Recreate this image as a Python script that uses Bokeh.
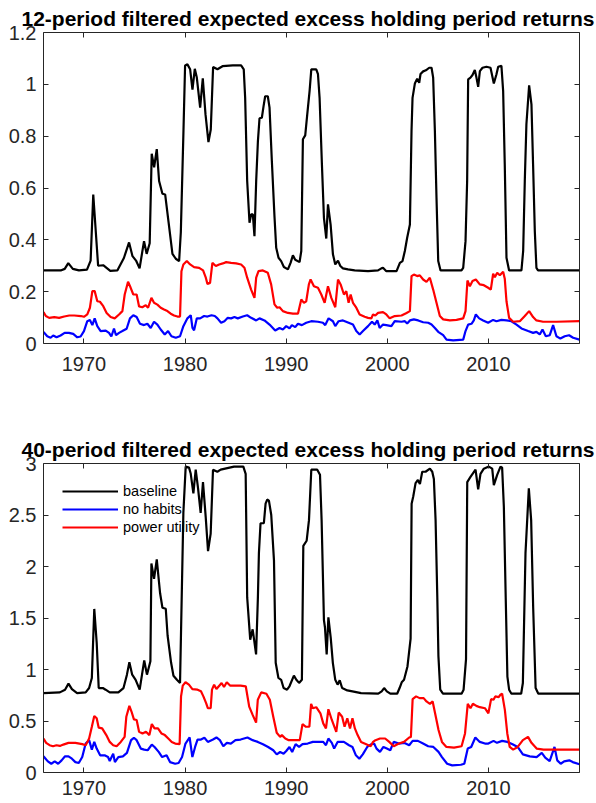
from bokeh.plotting import figure
from bokeh.models import Range1d, LinearAxis, FixedTicker, NumeralTickFormatter, BasicTickFormatter
from bokeh.layouts import column
from bokeh.embed import file_html
from bokeh.resources import INLINE

# ---------------- data ----------------
TITLE_12 = "12-period filtered expected excess holding period returns"
TITLE_40 = "40-period filtered expected excess holding period returns"
SERIES_NAMES = ["baseline", "no habits", "power utility"]
X_TICKS = [1970, 1980, 1990, 2000, 2010]
Y_TICKS_12 = [0, 0.2, 0.4, 0.6, 0.8, 1.0, 1.2]
Y_TICKS_40 = [0, 0.5, 1.0, 1.5, 2.0, 2.5, 3.0]

# 12-period, baseline
yr12_base = [1966.00, 1967.70, 1968.10, 1968.45, 1968.90, 1969.50, 1970.30, 1970.66, 1970.92, 1971.40,
             1971.90, 1972.60, 1973.30, 1973.95, 1974.46, 1974.80, 1975.15, 1975.50, 1975.94, 1976.20,
             1976.50, 1976.70, 1976.94, 1977.20, 1977.43, 1977.76, 1978.03, 1978.36, 1978.75, 1979.08,
             1979.41, 1979.58, 1979.84, 1980.00, 1980.23, 1980.50, 1980.73, 1980.96, 1981.16, 1981.49,
             1981.75, 1982.02, 1982.31, 1982.54, 1982.77, 1983.20, 1983.70, 1984.72, 1985.54, 1985.80,
             1985.94, 1986.14, 1986.37, 1986.53, 1986.70, 1986.86, 1987.03, 1987.20, 1987.36, 1987.59,
             1987.76, 1987.92, 1988.18, 1988.35, 1988.58, 1988.84, 1989.01, 1989.24, 1989.50, 1989.77,
             1990.17, 1990.43, 1990.66, 1990.89, 1991.32, 1991.49, 1991.65, 1991.88, 1992.08, 1992.31,
             1992.48, 1992.97, 1993.14, 1993.30, 1993.53, 1993.73, 1993.96, 1994.13, 1994.39, 1994.62,
             1994.85, 1995.12, 1995.35, 1995.61, 1996.11, 1996.77, 1998.09, 1999.08, 1999.41, 1999.57,
             1999.90, 2000.56, 2000.91, 2001.24, 2001.50, 2001.73, 2001.96, 2002.23, 2002.39, 2002.49,
             2002.72, 2002.95, 2003.15, 2003.28, 2003.54, 2003.81, 2004.14, 2004.37, 2004.53, 2004.70,
             2004.86, 2005.03, 2005.26, 2007.33, 2007.50, 2007.73, 2007.89, 2007.99, 2008.22, 2008.42,
             2008.65, 2008.81, 2008.98, 2009.15, 2009.41, 2009.80, 2010.20, 2010.53, 2010.79, 2010.96,
             2011.28, 2011.45, 2011.61, 2011.78, 2012.04, 2013.26, 2013.43, 2013.59, 2013.75, 2014.02,
             2014.25, 2014.41, 2014.58, 2014.74, 2014.90, 2019.00]
v12_base = [0.282, 0.282, 0.288, 0.310, 0.288, 0.282, 0.285, 0.320, 0.575, 0.300,
            0.302, 0.280, 0.282, 0.330, 0.390, 0.337, 0.320, 0.290, 0.395, 0.346,
            0.387, 0.732, 0.680, 0.750, 0.627, 0.578, 0.575, 0.470, 0.346, 0.327,
            0.318, 0.430, 0.820, 1.073, 1.077, 1.058, 0.980, 1.060, 1.026, 0.910,
            1.023, 0.884, 0.777, 0.826, 1.067, 1.058, 1.070, 1.073, 1.073, 1.058,
            0.948, 0.627, 0.466, 0.498, 0.498, 0.414, 0.627, 0.780, 0.869, 0.871,
            0.916, 0.954, 0.954, 0.910, 0.704, 0.490, 0.369, 0.331, 0.318, 0.295,
            0.286, 0.311, 0.340, 0.323, 0.314, 0.357, 0.788, 0.803, 0.884, 0.974,
            1.058, 1.058, 1.039, 0.948, 0.691, 0.485, 0.405, 0.537, 0.459, 0.344,
            0.305, 0.320, 0.299, 0.290, 0.286, 0.282, 0.279, 0.282, 0.290, 0.292,
            0.279, 0.279, 0.279, 0.311, 0.318, 0.357, 0.408, 0.459, 0.820, 0.948,
            1.003, 1.022, 1.006, 1.040, 1.050, 1.054, 1.064, 1.064, 1.026, 0.820,
            0.562, 0.318, 0.282, 0.282, 0.292, 0.395, 0.627, 1.019, 1.026, 1.036,
            1.055, 1.026, 0.990, 1.051, 1.064, 1.068, 1.064, 1.003, 1.039, 1.068,
            1.071, 0.974, 0.691, 0.331, 0.282, 0.282, 0.357, 0.627, 0.846, 0.996,
            0.923, 0.691, 0.434, 0.292, 0.282, 0.282]

# 12-period, no habits
yr12_nh = [1966.00, 1966.37, 1966.70, 1966.96, 1967.29, 1967.69, 1968.09, 1968.51, 1968.94, 1969.34,
           1969.67, 1970.00, 1970.33, 1970.59, 1970.83, 1971.06, 1971.32, 1971.65, 1972.15, 1972.48,
           1972.71, 1972.97, 1973.17, 1973.47, 1973.80, 1974.22, 1974.55, 1974.88, 1975.21, 1975.54,
           1975.94, 1976.27, 1976.60, 1976.93, 1977.26, 1977.59, 1977.99, 1978.32, 1978.65, 1979.08,
           1979.50, 1979.83, 1980.23, 1980.56, 1980.73, 1980.89, 1981.16, 1981.49, 1981.88, 1982.21,
           1982.61, 1982.94, 1983.20, 1983.56, 1983.89, 1984.22, 1984.55, 1984.88, 1985.21, 1985.71,
           1986.14, 1986.53, 1987.03, 1987.36, 1987.85, 1988.35, 1988.91, 1989.34, 1989.67, 1990.00,
           1990.33, 1990.56, 1990.89, 1991.16, 1991.55, 1991.98, 1992.48, 1993.14, 1993.63, 1993.86,
           1994.19, 1994.62, 1994.85, 1995.18, 1995.61, 1996.17, 1996.60, 1996.93, 1997.26, 1997.59,
           1998.09, 1998.48, 1998.75, 1999.01, 1999.24, 1999.57, 1999.90, 2000.40, 2000.73, 2001.40,
           2001.73, 2001.96, 2002.23, 2002.62, 2003.05, 2003.54, 2004.04, 2004.37, 2004.70, 2005.03,
           2005.52, 2005.85, 2006.51, 2007.50, 2007.73, 2007.99, 2008.32, 2008.55, 2008.75, 2009.08,
           2009.47, 2009.97, 2010.46, 2010.79, 2011.28, 2011.78, 2012.27, 2012.77, 2013.26, 2013.92,
           2014.41, 2014.74, 2015.07, 2015.34, 2015.67, 2016.06, 2016.39, 2016.72, 2017.11, 2017.54,
           2017.97, 2018.37, 2019.00]
v12_nh = [0.045, 0.028, 0.022, 0.031, 0.024, 0.031, 0.041, 0.041, 0.037, 0.024,
          0.027, 0.048, 0.086, 0.091, 0.071, 0.097, 0.067, 0.048, 0.050, 0.041,
          0.027, 0.058, 0.032, 0.041, 0.048, 0.057, 0.097, 0.109, 0.102, 0.076,
          0.071, 0.076, 0.060, 0.084, 0.073, 0.054, 0.035, 0.048, 0.028, 0.022,
          0.028, 0.067, 0.097, 0.109, 0.060, 0.051, 0.097, 0.097, 0.106, 0.104,
          0.109, 0.106, 0.097, 0.080, 0.086, 0.099, 0.097, 0.102, 0.097, 0.104,
          0.109, 0.099, 0.089, 0.097, 0.089, 0.073, 0.050, 0.060, 0.054, 0.067,
          0.058, 0.071, 0.063, 0.076, 0.071, 0.080, 0.086, 0.084, 0.080, 0.071,
          0.097, 0.086, 0.067, 0.086, 0.089, 0.080, 0.073, 0.048, 0.035, 0.048,
          0.067, 0.084, 0.073, 0.089, 0.060, 0.073, 0.071, 0.067, 0.086, 0.084,
          0.086, 0.077, 0.089, 0.093, 0.089, 0.082, 0.080, 0.073, 0.060, 0.045,
          0.032, 0.015, 0.012, 0.015, 0.048, 0.073, 0.076, 0.089, 0.112, 0.097,
          0.089, 0.080, 0.091, 0.086, 0.091, 0.089, 0.086, 0.073, 0.058, 0.048,
          0.041, 0.045, 0.035, 0.054, 0.028, 0.032, 0.071, 0.028, 0.019, 0.028,
          0.032, 0.022, 0.015]

# 12-period, power utility
yr12_pu = [1966.00, 1966.23, 1966.56, 1967.06, 1967.55, 1968.05, 1968.55, 1969.04, 1969.70, 1970.00,
           1970.33, 1970.59, 1970.83, 1971.06, 1971.32, 1971.58, 1971.91, 1972.24, 1972.64, 1973.04,
           1973.47, 1973.80, 1974.03, 1974.36, 1974.62, 1974.88, 1975.21, 1975.45, 1975.77, 1976.11,
           1976.34, 1976.67, 1976.93, 1977.26, 1977.59, 1977.92, 1978.25, 1978.58, 1978.91, 1979.24,
           1979.50, 1979.64, 1979.83, 1980.17, 1980.50, 1980.89, 1981.39, 1981.78, 1982.05, 1982.21,
           1982.47, 1982.70, 1983.04, 1983.37, 1983.73, 1984.06, 1984.55, 1985.05, 1985.54, 1985.87,
           1986.14, 1986.53, 1986.86, 1987.03, 1987.26, 1987.69, 1988.18, 1988.51, 1988.84, 1989.11,
           1989.34, 1989.67, 1990.17, 1990.66, 1991.16, 1991.49, 1991.75, 1991.98, 1992.24, 1992.41,
           1992.74, 1993.14, 1993.47, 1993.80, 1994.13, 1994.46, 1994.85, 1995.12, 1995.38, 1995.71,
           1995.94, 1996.17, 1996.37, 1996.60, 1996.93, 1997.26, 1997.76, 1998.09, 1998.42, 1998.58,
           1998.81, 1999.08, 1999.57, 1999.90, 2000.23, 2000.73, 2001.40, 2001.90, 2002.23, 2002.39,
           2002.62, 2002.95, 2003.21, 2003.54, 2003.87, 2004.20, 2004.53, 2004.86, 2005.19, 2005.52,
           2006.18, 2006.84, 2007.50, 2007.73, 2007.92, 2008.16, 2008.42, 2008.75, 2009.14, 2009.54,
           2009.97, 2010.23, 2010.46, 2010.63, 2010.86, 2011.12, 2011.45, 2011.61, 2011.78, 2012.04,
           2012.44, 2013.10, 2013.59, 2014.02, 2014.41, 2014.74, 2015.40, 2016.72, 2019.00]
v12_pu = [0.121, 0.106, 0.099, 0.102, 0.099, 0.104, 0.108, 0.108, 0.106, 0.103,
          0.112, 0.138, 0.202, 0.202, 0.163, 0.161, 0.144, 0.118, 0.102, 0.097,
          0.112, 0.125, 0.189, 0.238, 0.215, 0.189, 0.189, 0.143, 0.140, 0.148,
          0.138, 0.176, 0.157, 0.150, 0.138, 0.131, 0.125, 0.115, 0.108, 0.104,
          0.104, 0.279, 0.305, 0.318, 0.305, 0.295, 0.292, 0.282, 0.254, 0.230,
          0.234, 0.311, 0.299, 0.305, 0.309, 0.314, 0.311, 0.309, 0.305, 0.292,
          0.254, 0.208, 0.176, 0.254, 0.279, 0.282, 0.273, 0.228, 0.151, 0.138,
          0.140, 0.125, 0.118, 0.115, 0.115, 0.170, 0.157, 0.163, 0.228, 0.247,
          0.221, 0.215, 0.189, 0.157, 0.221, 0.176, 0.140, 0.247, 0.228, 0.189,
          0.202, 0.157, 0.189, 0.157, 0.138, 0.112, 0.103, 0.099, 0.097, 0.112,
          0.108, 0.118, 0.121, 0.112, 0.097, 0.106, 0.108, 0.118, 0.125, 0.260,
          0.266, 0.260, 0.263, 0.247, 0.238, 0.254, 0.208, 0.157, 0.106, 0.093,
          0.089, 0.091, 0.097, 0.125, 0.243, 0.221, 0.241, 0.247, 0.228, 0.225,
          0.215, 0.208, 0.269, 0.256, 0.273, 0.263, 0.277, 0.250, 0.163, 0.099,
          0.084, 0.086, 0.106, 0.125, 0.102, 0.089, 0.084, 0.084, 0.086]

# 40-period, baseline
yr40_base = [1966.00, 1967.62, 1968.13, 1968.47, 1968.81, 1969.32, 1970.17, 1970.51, 1970.78, 1971.02,
             1971.26, 1971.46, 1971.87, 1972.14, 1972.55, 1973.40, 1973.91, 1974.25, 1974.49, 1974.77,
             1975.11, 1975.51, 1975.96, 1976.23, 1976.57, 1976.67, 1976.93, 1977.20, 1977.53, 1977.76,
             1978.09, 1978.27, 1978.61, 1978.85, 1979.19, 1979.50, 1979.83, 1980.06, 1980.39, 1980.56,
             1980.82, 1981.05, 1981.28, 1981.54, 1981.77, 1982.04, 1982.27, 1982.53, 1982.76, 1983.19,
             1983.52, 1984.84, 1985.76, 1985.99, 1986.14, 1986.44, 1986.68, 1986.85, 1987.02, 1987.20,
             1987.30, 1987.46, 1987.79, 1987.96, 1988.12, 1988.29, 1988.52, 1988.79, 1988.96, 1989.23,
             1989.50, 1989.74, 1990.08, 1990.32, 1990.76, 1991.00, 1991.27, 1991.55, 1991.69, 1992.02,
             1992.25, 1992.48, 1993.07, 1993.34, 1993.50, 1993.73, 1993.83, 1994.00, 1994.17, 1994.40,
             1994.61, 1994.85, 1995.08, 1995.29, 1995.53, 1996.04, 1996.55, 1997.40, 1999.10, 1999.44,
             1999.68, 1999.95, 2000.29, 2000.97, 2001.21, 2001.42, 2001.65, 2001.99, 2002.30, 2002.40,
             2002.56, 2002.79, 2003.02, 2003.22, 2003.45, 2003.78, 2004.21, 2004.44, 2004.60, 2004.77,
             2004.94, 2005.05, 2005.23, 2005.50, 2007.34, 2007.54, 2007.78, 2007.90, 2008.22, 2008.72,
             2008.98, 2009.21, 2009.54, 2010.03, 2010.37, 2010.53, 2010.86, 2011.19, 2011.35, 2011.52,
             2011.68, 2011.87, 2012.04, 2012.27, 2013.23, 2013.40, 2013.66, 2013.99, 2014.22, 2014.42,
             2014.66, 2014.93, 2019.00]
v40_base = [0.771, 0.778, 0.804, 0.863, 0.810, 0.771, 0.778, 0.820, 0.918, 1.588,
            1.260, 0.820, 0.820, 0.804, 0.778, 0.778, 0.820, 0.950, 1.070, 0.950,
            0.900, 0.804, 1.088, 0.950, 1.080, 2.030, 1.880, 2.070, 1.740, 1.600,
            1.590, 1.330, 1.070, 0.940, 0.900, 0.870, 2.520, 2.970, 2.960, 2.900,
            2.710, 2.940, 2.760, 2.520, 2.820, 2.480, 2.150, 2.320, 2.940, 2.920,
            2.940, 2.970, 2.970, 2.900, 1.700, 1.290, 1.390, 1.270, 1.147, 1.700,
            2.130, 2.420, 2.420, 2.610, 2.650, 2.640, 2.500, 2.060, 1.065, 0.918,
            0.900, 0.820, 0.804, 0.837, 0.940, 0.900, 0.870, 0.900, 2.200, 2.250,
            2.450, 2.940, 2.940, 2.890, 2.450, 1.480, 1.410, 1.147, 1.507, 1.310,
            1.065, 0.900, 0.853, 0.895, 0.820, 0.797, 0.788, 0.771, 0.765, 0.788,
            0.820, 0.788, 0.765, 0.765, 0.820, 0.876, 0.900, 1.030, 1.300, 2.610,
            2.680, 2.810, 2.840, 2.800, 2.920, 2.920, 2.950, 2.920, 2.850, 2.450,
            1.700, 1.130, 0.804, 0.765, 0.765, 0.804, 1.100, 2.820, 2.870, 2.940,
            2.750, 2.900, 2.950, 2.970, 2.950, 2.790, 2.890, 2.970, 2.960, 2.580,
            1.810, 0.930, 0.804, 0.765, 0.765, 0.869, 2.130, 2.760, 2.450, 1.600,
            0.820, 0.765, 0.765]

# 40-period, no habits
yr40_nh = [1966.00, 1966.43, 1966.77, 1967.11, 1967.45, 1967.79, 1968.13, 1968.47, 1968.81, 1969.15,
           1969.49, 1969.83, 1970.17, 1970.51, 1970.78, 1971.02, 1971.26, 1971.60, 1972.04, 1972.38,
           1972.55, 1972.89, 1973.06, 1973.40, 1973.85, 1974.25, 1974.66, 1974.94, 1975.21, 1975.62,
           1975.96, 1976.30, 1976.71, 1976.98, 1977.39, 1977.73, 1978.17, 1978.51, 1979.02, 1979.36,
           1979.70, 1980.04, 1980.45, 1980.72, 1980.99, 1981.23, 1981.57, 1981.91, 1982.25, 1982.76,
           1983.10, 1983.44, 1983.78, 1984.13, 1984.53, 1984.98, 1985.49, 1986.17, 1986.68, 1987.19,
           1987.70, 1988.21, 1988.72, 1989.06, 1989.40, 1989.74, 1989.98, 1990.32, 1990.59, 1990.93,
           1991.27, 1991.61, 1992.12, 1992.63, 1993.14, 1993.66, 1993.93, 1994.17, 1994.51, 1994.74,
           1995.08, 1995.70, 1996.21, 1996.55, 1996.89, 1997.23, 1997.57, 1998.01, 1998.42, 1998.69,
           1998.93, 1999.27, 1999.61, 1999.95, 2000.29, 2000.63, 2001.14, 2001.65, 2002.16, 2002.50,
           2003.02, 2003.53, 2004.04, 2004.55, 2005.06, 2005.40, 2005.91, 2006.42, 2007.27, 2007.61,
           2007.95, 2008.29, 2008.70, 2009.14, 2009.65, 2009.99, 2010.50, 2010.84, 2011.35, 2011.86,
           2012.38, 2012.89, 2013.40, 2014.08, 2014.76, 2015.27, 2015.61, 2016.05, 2016.53, 2016.80,
           2017.14, 2017.48, 2017.99, 2018.33, 2019.00]
v40_nh = [0.157, 0.108, 0.085, 0.108, 0.085, 0.118, 0.157, 0.157, 0.134, 0.101,
          0.092, 0.150, 0.281, 0.314, 0.222, 0.297, 0.232, 0.167, 0.167, 0.150,
          0.111, 0.183, 0.101, 0.150, 0.157, 0.190, 0.314, 0.337, 0.314, 0.232,
          0.222, 0.216, 0.271, 0.248, 0.200, 0.150, 0.167, 0.101, 0.085, 0.092,
          0.150, 0.281, 0.340, 0.150, 0.248, 0.320, 0.320, 0.337, 0.297, 0.320,
          0.340, 0.314, 0.255, 0.288, 0.281, 0.314, 0.320, 0.340, 0.314, 0.297,
          0.275, 0.248, 0.216, 0.176, 0.199, 0.183, 0.206, 0.248, 0.199, 0.275,
          0.248, 0.275, 0.281, 0.297, 0.297, 0.297, 0.265, 0.330, 0.288, 0.232,
          0.297, 0.297, 0.265, 0.248, 0.167, 0.134, 0.176, 0.248, 0.275, 0.281,
          0.232, 0.200, 0.248, 0.232, 0.216, 0.297, 0.281, 0.288, 0.265, 0.307,
          0.307, 0.281, 0.255, 0.248, 0.200, 0.150, 0.085, 0.069, 0.075, 0.085,
          0.232, 0.248, 0.340, 0.297, 0.281, 0.281, 0.307, 0.288, 0.307, 0.297,
          0.275, 0.248, 0.176, 0.157, 0.150, 0.190, 0.144, 0.111, 0.248, 0.118,
          0.085, 0.108, 0.118, 0.101, 0.080]

# 40-period, power utility
yr40_pu = [1966.00, 1966.26, 1966.60, 1966.94, 1967.28, 1967.62, 1967.96, 1968.47, 1969.15, 1969.83,
           1970.17, 1970.51, 1970.78, 1971.02, 1971.26, 1971.46, 1971.80, 1972.21, 1972.55, 1972.89,
           1973.23, 1973.64, 1974.02, 1974.19, 1974.49, 1974.70, 1974.94, 1975.21, 1975.45, 1975.79,
           1976.13, 1976.47, 1976.71, 1976.98, 1977.32, 1977.66, 1978.00, 1978.34, 1978.68, 1979.02,
           1979.46, 1979.60, 1979.77, 1980.04, 1980.38, 1980.72, 1981.23, 1981.57, 1981.81, 1982.08,
           1982.25, 1982.53, 1982.66, 1982.87, 1983.10, 1983.38, 1983.61, 1983.85, 1984.12, 1984.47,
           1984.98, 1985.49, 1986.00, 1986.34, 1986.68, 1987.02, 1987.19, 1987.53, 1988.04, 1988.38,
           1988.72, 1989.06, 1989.40, 1989.57, 1989.91, 1990.25, 1990.93, 1991.34, 1991.61, 1991.95,
           1992.29, 1992.46, 1992.63, 1992.97, 1993.38, 1993.66, 1993.93, 1994.17, 1994.51, 1994.95,
           1995.19, 1995.53, 1995.77, 1996.04, 1996.31, 1996.55, 1996.79, 1997.06, 1997.40, 1997.91,
           1998.35, 1998.59, 1998.83, 1999.27, 1999.78, 2000.19, 2000.63, 2001.14, 2001.65, 2002.16,
           2002.33, 2002.50, 2002.84, 2003.19, 2003.59, 2003.87, 2004.21, 2004.48, 2004.72, 2005.06,
           2005.40, 2005.84, 2006.59, 2007.34, 2007.68, 2007.95, 2008.22, 2008.46, 2008.80, 2009.14,
           2009.65, 2009.99, 2010.26, 2010.50, 2010.67, 2011.01, 2011.18, 2011.35, 2011.62, 2011.86,
           2012.10, 2012.44, 2012.89, 2013.40, 2013.91, 2014.25, 2014.76, 2015.44, 2019.00]
v40_pu = [0.330, 0.288, 0.265, 0.255, 0.265, 0.258, 0.271, 0.288, 0.288, 0.275,
          0.265, 0.330, 0.444, 0.549, 0.526, 0.435, 0.428, 0.363, 0.297, 0.265,
          0.255, 0.297, 0.346, 0.542, 0.647, 0.592, 0.516, 0.510, 0.395, 0.379,
          0.395, 0.363, 0.470, 0.428, 0.428, 0.379, 0.363, 0.330, 0.297, 0.281,
          0.275, 0.739, 0.843, 0.876, 0.853, 0.810, 0.804, 0.788, 0.739, 0.673,
          0.624, 0.624, 0.804, 0.853, 0.810, 0.843, 0.869, 0.830, 0.876, 0.843,
          0.843, 0.843, 0.837, 0.640, 0.559, 0.484, 0.706, 0.778, 0.765, 0.706,
          0.542, 0.386, 0.346, 0.363, 0.330, 0.314, 0.314, 0.314, 0.470, 0.444,
          0.444, 0.667, 0.624, 0.634, 0.575, 0.477, 0.428, 0.614, 0.510, 0.395,
          0.582, 0.542, 0.444, 0.526, 0.428, 0.526, 0.428, 0.363, 0.297, 0.275,
          0.255, 0.297, 0.314, 0.330, 0.330, 0.297, 0.255, 0.281, 0.297, 0.340,
          0.346, 0.712, 0.739, 0.722, 0.722, 0.690, 0.667, 0.690, 0.575, 0.412,
          0.297, 0.248, 0.242, 0.255, 0.379, 0.667, 0.624, 0.667, 0.647, 0.634,
          0.624, 0.575, 0.712, 0.706, 0.739, 0.732, 0.755, 0.765, 0.608, 0.379,
          0.248, 0.222, 0.248, 0.314, 0.346, 0.288, 0.232, 0.222, 0.222]

# ---------------- styling ----------------
FONT = "Liberation Sans"
AXC = "#262626"
COLORS = ["black", "blue", "red"]
LW = 2.2


def style_axis(ax, labels=True):
    ax.axis_line_color = AXC
    ax.axis_line_width = 1
    ax.major_tick_line_color = AXC
    ax.major_tick_in = 5
    ax.major_tick_out = 0
    ax.minor_tick_line_color = None
    ax.major_label_text_font = FONT
    if labels:
        ax.major_label_text_color = AXC
        ax.major_label_text_font_size = "20px"
    else:
        ax.major_label_text_color = None
        ax.major_label_text_font_size = "0px"
        ax.major_label_standoff = 0


def make_fig(title, ymax, yticks, height, top_border, bottom_border, xstandoff):
    p = figure(width=596, height=height, x_range=Range1d(1966, 2019), y_range=Range1d(0, ymax),
               output_backend="svg", toolbar_location=None,
               min_border_left=43, min_border_right=17,
               min_border_top=top_border, min_border_bottom=bottom_border)
    p.title.text = title
    p.title.text_font = FONT
    p.title.text_font_size = "21px"
    p.title.text_font_style = "bold"
    p.title.text_color = "black"
    p.title.align = "left"
    p.title.offset = -22
    p.title.standoff = 5
    p.outline_line_color = None
    p.xgrid.visible = False
    p.ygrid.visible = False
    p.background_fill_color = "white"
    p.border_fill_color = "white"

    p.xaxis.ticker = FixedTicker(ticks=X_TICKS)
    p.xaxis.formatter = BasicTickFormatter(use_scientific=False)
    p.yaxis.ticker = FixedTicker(ticks=yticks)
    p.yaxis.formatter = NumeralTickFormatter(format="0.[0]")
    for ax in p.xaxis:
        style_axis(ax)
        ax.major_label_standoff = xstandoff
    for ax in p.yaxis:
        style_axis(ax)
        ax.major_label_standoff = 7

    top = LinearAxis(ticker=FixedTicker(ticks=X_TICKS))
    style_axis(top, labels=False)
    p.add_layout(top, "above")
    right = LinearAxis(ticker=FixedTicker(ticks=yticks))
    style_axis(right, labels=False)
    p.add_layout(right, "right")
    return p


p1 = make_fig(TITLE_12, 1.2, Y_TICKS_12, 420, 32, 77, 13)
p1.line(yr12_base, v12_base, line_color=COLORS[0], line_width=LW)
p1.line(yr12_nh, v12_nh, line_color=COLORS[1], line_width=LW)
p1.line(yr12_pu, v12_pu, line_color=COLORS[2], line_width=LW)

p2 = make_fig(TITLE_40, 3.0, Y_TICKS_40, 383, 43, 31, 8)
p2.line(yr40_base, v40_base, line_color=COLORS[0], line_width=LW, legend_label=SERIES_NAMES[0])
p2.line(yr40_nh, v40_nh, line_color=COLORS[1], line_width=LW, legend_label=SERIES_NAMES[1])
p2.line(yr40_pu, v40_pu, line_color=COLORS[2], line_width=LW, legend_label=SERIES_NAMES[2])

lg = p2.legend[0]
lg.location = "top_left"
lg.margin = 19
lg.padding = 0
lg.spacing = 0
lg.glyph_width = 56
lg.glyph_height = 18
lg.label_height = 18
lg.label_standoff = 5
lg.label_text_font = FONT
lg.label_text_font_size = "14.5px"
lg.label_text_color = "black"
lg.border_line_color = None
lg.background_fill_alpha = 0

layout = column(p1, p2, spacing=0)
open("out.html", "w").write(file_html(layout, INLINE))
